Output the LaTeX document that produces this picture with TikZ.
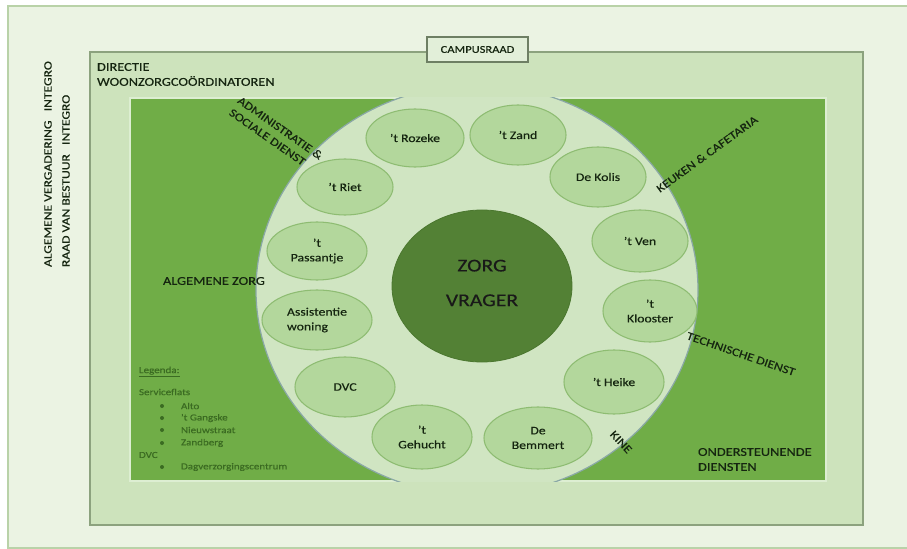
\documentclass[tikz,border=0pt]{standalone}
\usepackage{fontspec}
\usetikzlibrary{shapes.geometric}
\setmainfont{Carlito}[FakeStretch=1.2, FakeBold=0.4]
\definecolor{outerbg}{HTML}{EBF3E3}
\definecolor{outerln}{HTML}{B9D2A8}
\definecolor{midbg}{HTML}{CDE3BC}
\definecolor{midln}{HTML}{8CA27E}
\definecolor{innerbg}{HTML}{70AD47}
\definecolor{innerln}{HTML}{DDEED2}
\definecolor{ringbg}{HTML}{D0E5C2}
\definecolor{ringln}{HTML}{8AA8A6}
\definecolor{ovbg}{HTML}{B3D79C}
\definecolor{ovln}{HTML}{8EBC72}
\definecolor{corebg}{HTML}{538135}
\definecolor{coreln}{HTML}{4B772F}
\definecolor{txtdark}{HTML}{152510}
\definecolor{legtxt}{HTML}{3B6B22}
\definecolor{campbg}{HTML}{E2EFD9}
\definecolor{campln}{HTML}{6E7F64}
\begin{document}
\begin{tikzpicture}[x=0.75pt,y=-0.75pt,
  every node/.style={inner sep=0pt, outer sep=0pt},
  lbl/.style={font=\fontsize{9}{10}\selectfont, text=txtdark},
  biglbl/.style={font=\fontsize{8.6}{11}\selectfont, text=txtdark},
  oval/.style={ellipse, draw=ovln, fill=ovbg, line width=0.8pt, align=center,
     font=\fontsize{8.6}{11}\selectfont, text=txtdark},
  leg/.style={font=\fontsize{6.9}{8}\selectfont, text=legtxt, anchor=west},
  bul/.style={circle, fill=legtxt, minimum size=3pt}]
\useasboundingbox (0,0) rectangle (907,549);
\fill[white] (0,0) rectangle (907,549);
% frames
\draw[fill=outerbg, draw=outerln, line width=0.8pt] (8,6) rectangle (908,548);
\draw[fill=midbg, draw=midln, line width=0.9pt] (90,52) rectangle (863,525);
\draw[fill=innerbg, draw=innerln, line width=1pt] (130,98) rectangle (826,481);
% ring
\begin{scope}
  \clip (130,98) rectangle (826,481);
  \draw[fill=ringbg, draw=ringln, line width=0.9pt] (477,290) ellipse [x radius=221, y radius=205];
\end{scope}
% campusraad
\node[draw=campln, fill=campbg, line width=1.1pt, minimum width=75.75pt, minimum height=18.75pt,
      font=\fontsize{7.8}{9}\selectfont, text=txtdark] (campus) at (477.5,49.5) {CAMPUSRAAD};
% core
\node[ellipse, fill=corebg, draw=coreln, line width=0.6pt, minimum width=135pt, minimum height=114pt] (core) at (482,286) {};
\node[font=\fontsize{13.5}{26}\selectfont, text=black!90, align=center] (corelbl) at (482,283) {ZORG\\VRAGER};
% ovals
\node[oval, minimum width=73.5pt, minimum height=43.5pt] (rozeke) at (415,138) {’t Rozeke};
\node[oval, minimum width=72pt, minimum height=45pt] (zand) at (518,135) {’t Zand};
\node[oval, minimum width=72pt, minimum height=45pt] (kolis) at (598,177) {De Kolis};
\node[oval, minimum width=72pt, minimum height=46.5pt] (ven) at (640,241) {’t Ven};
\node[oval, minimum width=70.5pt, minimum height=46.5pt] (klooster) at (650,311) {’t\\Klooster};
\node[oval, minimum width=75pt, minimum height=48pt] (heike) at (614,382) {’t Heike};
\node[oval, minimum width=81pt, minimum height=46.5pt] (bemmert) at (538,438) {De\\Bemmert};
\node[oval, minimum width=75pt, minimum height=48pt] (gehucht) at (422,437) {’t\\Gehucht};
\node[oval, minimum width=75pt, minimum height=45pt] (dvc) at (345,387) {DVC};
\node[oval, minimum width=82.5pt, minimum height=45pt, align=left] (assist) at (317,320) {Assistentie\\woning};
\node[oval, minimum width=75pt, minimum height=43.5pt] (passantje) at (317,251) {’t\\Passantje};
\node[oval, minimum width=72pt, minimum height=42pt] (riet) at (345,187) {’t Riet};
% outer labels
\node[lbl, rotate=90, anchor=west, font=\fontsize{8.5}{10}\selectfont] (av) at (48,267) {ALGEMENE VERGADERING \ \ INTEGRO};
\node[lbl, rotate=90, anchor=west, font=\fontsize{8.5}{10}\selectfont] (rvb) at (66,267) {RAAD VAN BESTUUR \ \ INTEGRO};
\node[lbl, anchor=west] (dir) at (97,67) {DIRECTIE};
\node[lbl, anchor=west] (wzc) at (97,81) {WOONZORGCOÖRDINATOREN};
% inner labels
\node[biglbl, rotate=-35, align=left] (adm) at (276,134) {ADMINISTRATIE \&\\SOCIALE DIENST};
\node[biglbl, rotate=36] (keuken) at (707,154) {KEUKEN \& CAFETARIA};
\node[lbl, anchor=west] (alg) at (163,281) {ALGEMENE ZORG};
\node[biglbl, rotate=-19] (tech) at (741,354) {TECHNISCHE DIENST};
\node[biglbl, rotate=-47] (kine) at (621,442) {KINE};
\node[lbl, anchor=west] (ond1) at (698,452) {ONDERSTEUNENDE};
\node[lbl, anchor=west] (ond2) at (698,467) {DIENSTEN};
% legend
\node[leg] (legenda) at (139,372) {\underline{Legenda:}};
\node[leg] (sf) at (139,392) {Serviceflats};
\node[bul] (b1) at (162,406) {};
\node[leg] (alto) at (181,406) {Alto};
\node[bul] (b2) at (162,418) {};
\node[leg] (gangske) at (181,418) {’t Gangske};
\node[bul] (b3) at (162,430) {};
\node[leg] (nieuw) at (181,430) {Nieuwstraat};
\node[bul] (b4) at (162,443) {};
\node[leg] (zandberg) at (181,443) {Zandberg};
\node[leg] (ldvc) at (139,455) {DVC};
\node[bul] (b5) at (162,467) {};
\node[leg] (dag) at (181,467) {Dagverzorgingscentrum};
\end{tikzpicture}
\end{document}
